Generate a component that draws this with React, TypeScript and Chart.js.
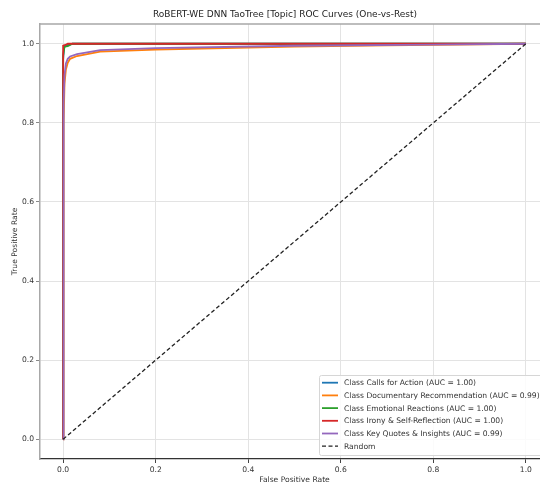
import React, { useEffect, useRef } from "react";
import { Chart, registerables } from "chart.js";

Chart.register(...registerables);

const FONT = "'DejaVu Sans', sans-serif";

const titleText = "RoBERT-WE DNN TaoTree [Topic] ROC Curves (One-vs-Rest)";
const xAxisLabel = "False Positive Rate";
const yAxisLabel = "True Positive Rate";
const tickValues = [0, 0.2, 0.4, 0.6, 0.8, 1.0];

const classNames = [
  "Calls for Action",
  "Documentary Recommendation",
  "Emotional Reactions",
  "Irony & Self-Reflection",
  "Key Quotes & Insights",
];
const aucValues = [1.0, 0.99, 1.0, 1.0, 0.99];
const classColors = ["#1f77b4", "#ff7f0e", "#2ca02c", "#d62728", "#9467bd"];

const callsFpr = [0, 0, 0.002, 0.005, 0.02, 1];
const callsTpr = [0, 0.96, 0.99, 0.995, 1.0, 1.0];

const docFpr = [0, 0.001, 0.003, 0.006, 0.01, 0.015, 0.03, 0.08, 0.2, 0.3, 0.5, 0.7, 1];
const docTpr = [0, 0.8, 0.9, 0.935, 0.952, 0.962, 0.969, 0.98, 0.985, 0.988, 0.993, 0.996, 1.0];

const emoFpr = [0, 0, 0.003, 0.01, 0.02, 1];
const emoTpr = [0, 0.97, 0.993, 0.994, 1.0, 1.0];

const ironyFpr = [0, 0, 0.005, 0.01, 1];
const ironyTpr = [0, 0.995, 0.997, 1.0, 1.0];

const quotesFpr = [0, 0.001, 0.003, 0.006, 0.01, 0.015, 0.03, 0.08, 0.2, 0.5, 0.8, 1];
const quotesTpr = [0, 0.85, 0.92, 0.95, 0.962, 0.968, 0.974, 0.984, 0.989, 0.995, 0.998, 1.0];

const randomFpr = [0, 1];
const randomTpr = [0, 1];

const classFpr = [callsFpr, docFpr, emoFpr, ironyFpr, quotesFpr];
const classTpr = [callsTpr, docTpr, emoTpr, ironyTpr, quotesTpr];

const toPoints = (xs: number[], ys: number[]) => xs.map((x, i) => ({ x, y: ys[i] }));

const titlePlugin = {
  id: "plotTitle",
  afterDraw(chart: any) {
    const ctx = chart.ctx;
    ctx.save();
    ctx.font = `9px ${FONT}`;
    ctx.fillStyle = "#222";
    ctx.textAlign = "center";
    ctx.textBaseline = "middle";
    ctx.fillText(titleText, 285, 15);
    ctx.restore();
  },
};

const framePlugin = {
  id: "frame",
  afterDraw(chart: any) {
    const { ctx, chartArea } = chart;
    ctx.save();
    ctx.strokeStyle = "#a8a8a8";
    ctx.lineWidth = 1.5;
    ctx.beginPath();
    ctx.moveTo(chartArea.left, chartArea.top);
    ctx.lineTo(chartArea.right, chartArea.top);
    ctx.lineTo(chartArea.right, chartArea.bottom);
    ctx.stroke();
    ctx.restore();
  },
};

const legendPlugin = {
  id: "innerLegend",
  afterDraw(chart: any) {
    const ctx = chart.ctx;
    const x0 = 319.5;
    const y0 = 375.5;
    const w = 260;
    const h = 80;
    ctx.save();
    ctx.fillStyle = "rgba(255,255,255,0.85)";
    ctx.strokeStyle = "#d6d6d6";
    ctx.lineWidth = 1;
    ctx.beginPath();
    ctx.roundRect(x0, y0, w, h, 2);
    ctx.fill();
    ctx.stroke();
    ctx.font = `7.6px ${FONT}`;
    ctx.textBaseline = "middle";
    ctx.textAlign = "left";
    chart.data.datasets.forEach((ds: any, i: number) => {
      const y = 382.7 + i * 12.7;
      ctx.strokeStyle = ds.borderColor;
      ctx.lineWidth = ds.borderWidth;
      ctx.setLineDash(ds.borderDash || []);
      ctx.beginPath();
      ctx.moveTo(322, y);
      ctx.lineTo(338, y);
      ctx.stroke();
      ctx.setLineDash([]);
      ctx.fillStyle = "#333";
      ctx.fillText(ds.label, 344, y + 0.5);
    });
    ctx.restore();
  },
};

export default function App() {
  const ref = useRef<HTMLCanvasElement | null>(null);

  useEffect(() => {
    if (!ref.current) return;
    const datasets: any[] = classNames.map((name, i) => ({
      label: `Class ${name} (AUC = ${aucValues[i].toFixed(2)})`,
      data: toPoints(classFpr[i], classTpr[i]),
      borderColor: classColors[i],
      backgroundColor: classColors[i],
      borderWidth: 1.8,
      showLine: true,
      pointRadius: 0,
      tension: 0,
      order: 10 - i,
    }));
    datasets.push({
      label: "Random",
      data: toPoints(randomFpr, randomTpr),
      borderColor: "#222",
      backgroundColor: "#222",
      borderWidth: 1.3,
      borderDash: [4, 2.5],
      showLine: true,
      pointRadius: 0,
      order: 0,
    });

    const setTicks = (scale: any) => {
      scale.ticks = tickValues.map((v) => ({ value: v }));
    };

    const chart = new Chart(ref.current, {
      type: "scatter",
      data: { datasets },
      options: {
        animation: false,
        responsive: false,
        devicePixelRatio: 1,
        layout: { padding: { top: 24, left: 0, right: 21, bottom: 0 } },
        plugins: {
          legend: { display: false },
          tooltip: { enabled: false },
          title: { display: false },
        },
        scales: {
          x: {
            type: "linear",
            min: -0.05,
            max: 1.05,
            afterBuildTicks: setTicks,
            afterFit: (scale: any) => {
              scale.height = 27;
            },
            grid: {
              color: "#e3e3e3",
              lineWidth: 1,
              drawTicks: true,
              tickLength: 4,
              tickColor: "#444",
            },
            border: { color: "#333", width: 1.3 },
            ticks: {
              font: { family: FONT, size: 7.6 },
              color: "#333",
              padding: 2,
              maxRotation: 0,
              callback: (v: any) => Number(v).toFixed(1),
            },
            title: {
              display: true,
              text: xAxisLabel,
              font: { family: FONT, size: 7.6 },
              color: "#333",
              padding: { top: 0, bottom: 1 },
            },
          },
          y: {
            type: "linear",
            min: -0.05,
            max: 1.05,
            afterBuildTicks: setTicks,
            afterFit: (scale: any) => {
              scale.width = 40;
            },
            grid: {
              color: "#e3e3e3",
              lineWidth: 1,
              drawTicks: true,
              tickLength: 4,
              tickColor: "#888",
            },
            border: { color: "#a8a8a8", width: 1.5 },
            ticks: {
              font: { family: FONT, size: 7.6 },
              color: "#333",
              padding: 2,
              callback: (v: any) => Number(v).toFixed(1),
            },
            title: {
              display: true,
              text: yAxisLabel,
              font: { family: FONT, size: 7.6 },
              color: "#333",
              padding: { top: 10, bottom: 0 },
            },
          },
        },
      },
      plugins: [titlePlugin, framePlugin, legendPlugin],
    });
    return () => chart.destroy();
  }, []);

  return (
    <div
      style={{
        position: "fixed",
        left: 0,
        top: 0,
        width: 540,
        height: 486,
        overflow: "hidden",
        background: "#fff",
      }}
    >
      <canvas
        ref={ref}
        width={570}
        height={486}
        style={{ position: "absolute", left: 0, top: 0, width: 570, height: 486 }}
      />
    </div>
  );
}
